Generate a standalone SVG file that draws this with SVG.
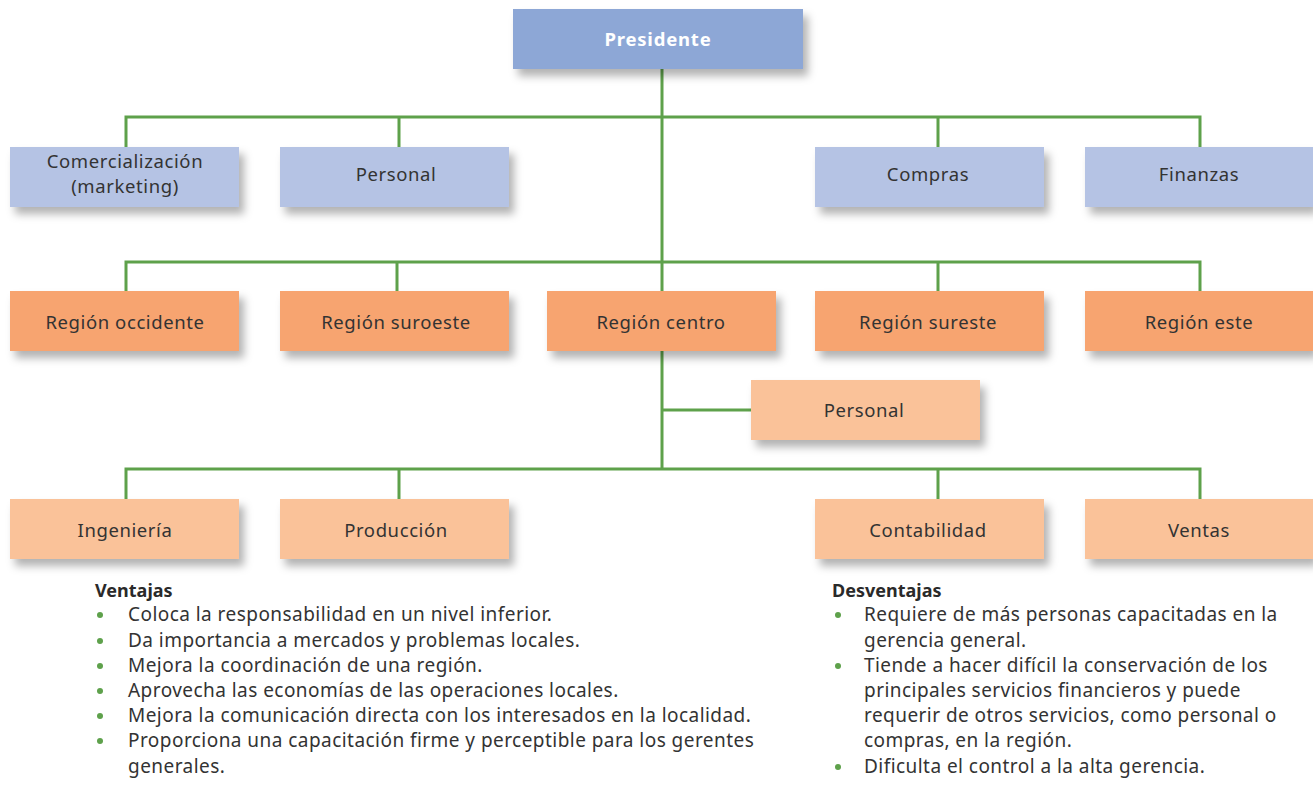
<svg xmlns="http://www.w3.org/2000/svg" width="1313" height="787" viewBox="0 0 1313 787">
<defs>
<filter id="sh" x="-10%" y="-20%" width="130%" height="160%">
<feDropShadow dx="5" dy="7" stdDeviation="4" flood-color="#000" flood-opacity="0.3"/>
</filter>
<style>
.b{filter:url(#sh)}
.p0{fill:#8da7d6}
.p1{fill:#b5c3e4}
.p2{fill:#f7a470}
.p3{fill:#fac299}
.t{font-family:"Noto Sans","Liberation Sans",sans-serif;font-size:18.5px;letter-spacing:0.6px;fill:#333;text-anchor:middle}
.tw{font-family:"Noto Sans","Liberation Sans",sans-serif;font-size:18.5px;letter-spacing:0.8px;font-weight:bold;fill:#fff;text-anchor:middle}
.c{fill:none;stroke:#5ea14b;stroke-width:3}
.h{font-family:"Noto Sans","Liberation Sans",sans-serif;font-size:18px;font-weight:bold;fill:#2a2a2a}
.l{font-family:"Noto Sans","Liberation Sans",sans-serif;font-size:19px;letter-spacing:0.45px;fill:#333}
.d{fill:#5ea14b}
</style>
</defs>
<rect width="1313" height="787" fill="#fff"/>
<g id="connectors">
<path class="c" d="M662 69V469"/>
<path class="c" d="M126 147V117H1200V147M399 117V147M938 117V147"/>
<path class="c" d="M126 291V262H1200V291M397 262V291M938 262V291"/>
<path class="c" d="M662 410H751"/>
<path class="c" d="M126 499V469H1200V499M399 469V499M938 469V499"/>
</g>
<g id="presidente"><rect class="b p0" x="513" y="9" width="290" height="60"/><text class="tw" x="658" y="46">Presidente</text></g>
<g id="comercializacion"><rect class="b p1" x="10" y="147" width="229" height="60"/><text class="t" x="125" y="168">Comercialización</text><text class="t" x="125" y="193">(marketing)</text></g>
<g id="personal1"><rect class="b p1" x="280" y="147" width="229" height="60"/><text class="t" x="396" y="181">Personal</text></g>
<g id="compras"><rect class="b p1" x="815" y="147" width="229" height="60"/><text class="t" x="928" y="181">Compras</text></g>
<g id="finanzas"><rect class="b p1" x="1085" y="147" width="228" height="60"/><text class="t" x="1199" y="181">Finanzas</text></g>
<g id="occidente"><rect class="b p2" x="10" y="291" width="229" height="60"/><text class="t" x="125" y="329">Región occidente</text></g>
<g id="suroeste"><rect class="b p2" x="280" y="291" width="229" height="60"/><text class="t" x="396" y="329">Región suroeste</text></g>
<g id="centro"><rect class="b p2" x="547" y="291" width="229" height="60"/><text class="t" x="661" y="329">Región centro</text></g>
<g id="sureste"><rect class="b p2" x="815" y="291" width="229" height="60"/><text class="t" x="928" y="329">Región sureste</text></g>
<g id="este"><rect class="b p2" x="1085" y="291" width="228" height="60"/><text class="t" x="1199" y="329">Región este</text></g>
<g id="personal2"><rect class="b p3" x="751" y="380" width="229" height="60"/><text class="t" x="864" y="417">Personal</text></g>
<g id="ingenieria"><rect class="b p3" x="10" y="499" width="229" height="60"/><text class="t" x="125" y="537">Ingeniería</text></g>
<g id="produccion"><rect class="b p3" x="280" y="499" width="229" height="60"/><text class="t" x="396" y="537">Producción</text></g>
<g id="contabilidad"><rect class="b p3" x="815" y="499" width="229" height="60"/><text class="t" x="928" y="537">Contabilidad</text></g>
<g id="ventas"><rect class="b p3" x="1085" y="499" width="228" height="60"/><text class="t" x="1199" y="537">Ventas</text></g>
<g id="ventajas">
<text class="h" x="95" y="597">Ventajas</text>
<circle class="d" cx="100" cy="615" r="3"/><text class="l" x="128" y="621">Coloca la responsabilidad en un nivel inferior.</text>
<circle class="d" cx="100" cy="641" r="3"/><text class="l" x="128" y="647">Da importancia a mercados y problemas locales.</text>
<circle class="d" cx="100" cy="666" r="3"/><text class="l" x="128" y="672">Mejora la coordinación de una región.</text>
<circle class="d" cx="100" cy="691" r="3"/><text class="l" x="128" y="697">Aprovecha las economías de las operaciones locales.</text>
<circle class="d" cx="100" cy="716" r="3"/><text class="l" x="128" y="722">Mejora la comunicación directa con los interesados en la localidad.</text>
<circle class="d" cx="100" cy="741" r="3"/><text class="l" x="128" y="747">Proporciona una capacitación firme y perceptible para los gerentes</text>
<text class="l" x="128" y="773">generales.</text>
</g>
<g id="desventajas">
<text class="h" x="832" y="597">Desventajas</text>
<circle class="d" cx="838" cy="615" r="3"/><text class="l" x="864" y="621">Requiere de más personas capacitadas en la</text>
<text class="l" x="864" y="647">gerencia general.</text>
<circle class="d" cx="838" cy="666" r="3"/><text class="l" x="864" y="672">Tiende a hacer difícil la conservación de los</text>
<text class="l" x="864" y="697">principales servicios financieros y puede</text>
<text class="l" x="864" y="722">requerir de otros servicios, como personal o</text>
<text class="l" x="864" y="747">compras, en la región.</text>
<circle class="d" cx="838" cy="767" r="3"/><text class="l" x="864" y="773">Dificulta el control a la alta gerencia.</text>
</g>
</svg>
